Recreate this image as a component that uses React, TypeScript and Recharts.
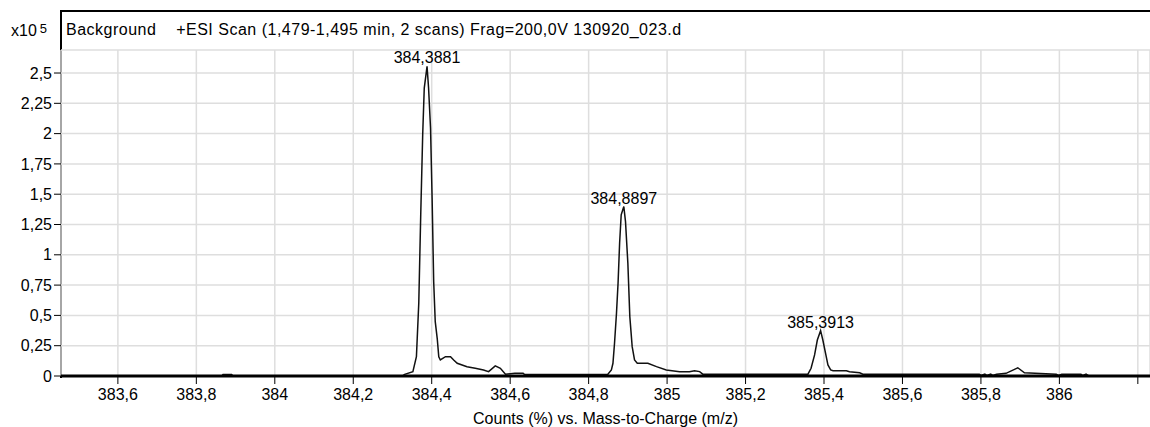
import React from 'react';
import { LineChart, Line, XAxis, YAxis, CartesianGrid, LabelList } from 'recharts';

// m/z values of the profile points
const mz = [
  383.455, 383.865, 383.868, 383.89, 383.893, 384.325, 384.331, 384.352, 384.361, 384.367,
  384.372, 384.377, 384.381, 384.3881, 384.392, 384.397, 384.401, 384.405, 384.409, 384.414,
  384.418, 384.422, 384.435, 384.448, 384.456, 384.465, 384.49, 384.511, 384.532, 384.545,
  384.562, 384.575, 384.588, 384.612, 384.633, 384.637, 384.849, 384.858, 384.862, 384.866,
  384.871, 384.875, 384.879, 384.883, 384.8897, 384.894, 384.9, 384.905, 384.911, 384.917,
  384.924, 384.951, 384.973, 384.998, 385.032, 385.057, 385.07, 385.083, 385.091, 385.359,
  385.367, 385.376, 385.383, 385.3913, 385.397, 385.404, 385.41, 385.417, 385.423, 385.457,
  385.465, 385.491, 385.499, 385.796, 385.8, 385.81, 385.815, 385.825, 385.83, 385.84,
  385.864, 385.894, 385.911, 385.992, 385.998, 386.006, 386.055, 386.06, 386.068, 386.075,
  386.231,
];

// counts (x10^5)
const counts = [
  0, 0, 0.012, 0.012, 0, 0, 0.014, 0.036, 0.159, 0.6,
  1.33, 1.99, 2.376, 2.555, 2.376, 2.046, 1.468, 0.779, 0.448, 0.311,
  0.159, 0.132, 0.159, 0.159, 0.132, 0.105, 0.077, 0.064, 0.05, 0.036,
  0.083, 0.064, 0.014, 0.022, 0.022, 0.012, 0.015, 0.05, 0.105, 0.27,
  0.518, 0.766, 1.097, 1.33, 1.398, 1.274, 0.93, 0.49, 0.242, 0.132,
  0.105, 0.105, 0.077, 0.05, 0.036, 0.036, 0.044, 0.036, 0.015, 0.015,
  0.064, 0.174, 0.297, 0.374, 0.297, 0.187, 0.091, 0.05, 0.044, 0.044,
  0.036, 0.027, 0.015, 0.015, 0.005, 0.015, 0.005, 0.015, 0.005, 0.015,
  0.022, 0.068, 0.027, 0.015, 0.004, 0.015, 0.015, 0.004, 0.015, 0,
  0,
];

const peakMz = [384.3881, 384.8897, 385.3913];

const xTicks = [383.6, 383.8, 384, 384.2, 384.4, 384.6, 384.8, 385, 385.2, 385.4, 385.6, 385.8, 386, 386.2];
const xTickLabels = ['383,6', '383,8', '384', '384,2', '384,4', '384,6', '384,8', '385', '385,2', '385,4', '385,6', '385,8', '386', ''];
const yTicks = [0, 0.25, 0.5, 0.75, 1, 1.25, 1.5, 1.75, 2, 2.25, 2.5];
const yTickLabels = ['0', '0,25', '0,5', '0,75', '1', '1,25', '1,5', '1,75', '2', '2,25', '2,5'];

const title = 'Background    +ESI Scan (1,479-1,495 min, 2 scans) Frag=200,0V 130920_023.d';
const xTitle = 'Counts (%) vs. Mass-to-Charge (m/z)';

const data = mz.map((m, i) => ({
  mz: m,
  counts: counts[i],
  peak: peakMz.includes(m) ? String(m).replace('.', ',') : undefined,
}));

const FONT = '"Liberation Sans", Arial, sans-serif';

const PeakLabel = (props: any) => {
  const { x, y, value } = props;
  if (value === undefined || value === null) return null;
  return (
    <text x={x} y={y - 3} textAnchor="middle" fontSize={16} fill="#000">
      {value}
    </text>
  );
};

const App: React.FC = () => {
  return (
    <div style={{ position: 'absolute', left: 0, top: 0, width: 1150, height: 427, background: '#fff', fontFamily: FONT, overflow: 'hidden' }}>
      <div style={{ position: 'absolute', left: 60, top: 10, width: 1090, height: 366, borderTop: '2px solid #000', borderLeft: '2px solid #000' }} />
      <div style={{ position: 'absolute', left: 11, top: 21, fontSize: 16, color: '#000' }}>
        x10<sup style={{ fontSize: 13, marginLeft: 3, verticalAlign: 3 }}>5</sup>
      </div>
      <div style={{ position: 'absolute', left: 66, top: 21, fontSize: 16, letterSpacing: 0.5, color: '#000', whiteSpace: 'pre' }}>{title}</div>
      <LineChart width={1150} height={427} data={data} margin={{ top: 50, right: 0, left: 0, bottom: 0 }}>
        <CartesianGrid stroke="#dedede" strokeWidth={1.5} />
        <XAxis
          dataKey="mz"
          type="number"
          domain={[383.455, 386.231]}
          allowDataOverflow
          ticks={xTicks}
          tickFormatter={(v: number) => xTickLabels[xTicks.indexOf(v)] ?? ''}
          interval={0}
          height={51}
          axisLine={{ stroke: '#000', strokeWidth: 3 }}
          tickLine={{ stroke: '#000' }}
          tickSize={8}
          tickMargin={5}
          tick={{ fill: '#000', fontSize: 16 }}
          label={{ value: xTitle, position: 'insideBottom', offset: 3, fill: '#000', fontSize: 16 }}
        />
        <YAxis
          type="number"
          domain={[0, 2.69]}
          allowDataOverflow
          ticks={yTicks}
          tickFormatter={(v: number) => yTickLabels[yTicks.indexOf(v)] ?? ''}
          interval={0}
          width={61}
          axisLine={false}
          tickLine={{ stroke: '#000' }}
          tickSize={7}
          tickMargin={2}
          tick={{ fill: '#000', fontSize: 16 }}
        />
        <Line
          type="linear"
          dataKey="counts"
          stroke="#111"
          strokeWidth={1.5}
          dot={false}
          isAnimationActive={false}
        >
          <LabelList dataKey="peak" content={<PeakLabel />} />
        </Line>
      </LineChart>
    </div>
  );
};

export default App;
